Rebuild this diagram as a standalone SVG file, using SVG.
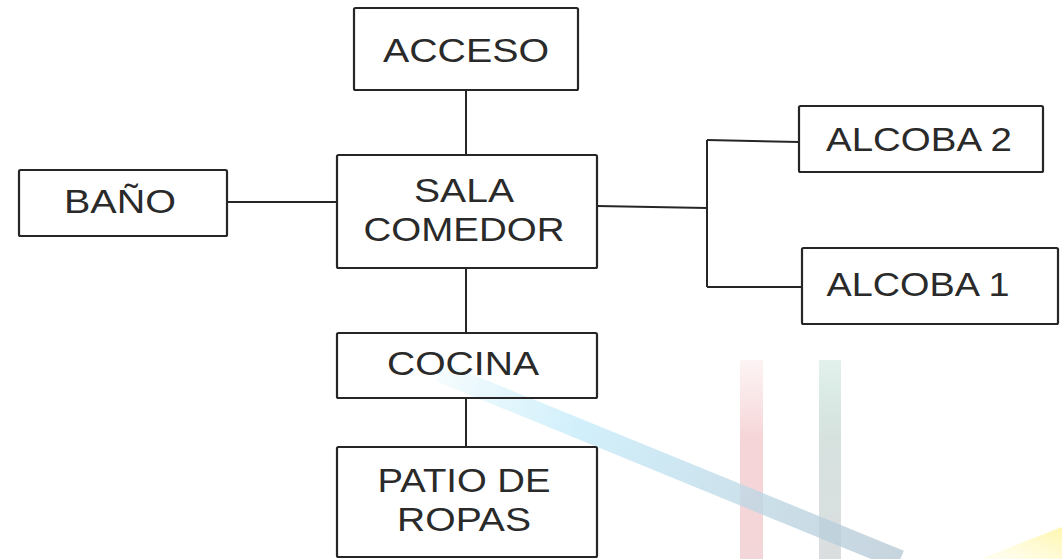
<svg xmlns="http://www.w3.org/2000/svg" width="1062" height="559" viewBox="0 0 1062 559">
<style>
.box{fill:none;stroke:#262626;stroke-width:2.2}
.lbl{font-family:"Liberation Sans",Arial,sans-serif;font-size:33px;fill:#2a2a2a;text-anchor:middle}
.conn{stroke:#262626;stroke-width:2;fill:none}
</style>
<defs>
<linearGradient id="gBlue" gradientUnits="userSpaceOnUse" x1="440" y1="372" x2="900" y2="559">
<stop offset="0" stop-color="#bfeaf8" stop-opacity="0.15"/>
<stop offset="0.3" stop-color="#c6ecfa" stop-opacity="0.8"/>
<stop offset="1" stop-color="#b4c6d3" stop-opacity="0.75"/>
</linearGradient>
<linearGradient id="gRed" x1="0" y1="0" x2="0" y2="1">
<stop offset="0" stop-color="#f6d2d4" stop-opacity="0.25"/>
<stop offset="0.4" stop-color="#f4cdd0" stop-opacity="0.85"/>
<stop offset="1" stop-color="#f1cfd2" stop-opacity="0.85"/>
</linearGradient>
<linearGradient id="gTeal" x1="0" y1="0" x2="0" y2="1">
<stop offset="0" stop-color="#b9dccf" stop-opacity="0.4"/>
<stop offset="0.4" stop-color="#d2dedb" stop-opacity="0.9"/>
<stop offset="1" stop-color="#d6dadc" stop-opacity="0.9"/>
</linearGradient>
<linearGradient id="gYel" x1="0" y1="1" x2="1" y2="0">
<stop offset="0" stop-color="#fff7b0" stop-opacity="0.2"/>
<stop offset="1" stop-color="#fff38a"/>
</linearGradient>
</defs>
<rect width="1062" height="559" fill="#fff"/>
<g id="background">
<rect x="740" y="360" width="23" height="199" fill="url(#gRed)"/>
<rect x="819" y="360" width="22" height="199" fill="url(#gTeal)"/>
<line x1="440" y1="372" x2="900" y2="560" stroke="url(#gBlue)" stroke-width="20"/>
<polygon points="980,559 1062,527 1062,559" fill="url(#gYel)" opacity="0.7"/>
</g>
<g id="connectors">
<line class="conn" x1="466" y1="90" x2="466" y2="155"/>
<line class="conn" x1="227" y1="202" x2="337" y2="202"/>
<line class="conn" x1="597" y1="206" x2="707" y2="208"/>
<line class="conn" x1="707" y1="140" x2="707" y2="287"/>
<line class="conn" x1="707" y1="140" x2="799" y2="142"/>
<line class="conn" x1="707" y1="287" x2="802" y2="287"/>
<line class="conn" x1="466" y1="268" x2="466" y2="333"/>
<line class="conn" x1="466" y1="398" x2="466" y2="447"/>
</g>
<g id="acceso">
<rect class="box" x="354" y="8" width="224" height="82" rx="1.5"/>
<text class="lbl" x="466" y="62" textLength="166" lengthAdjust="spacingAndGlyphs">ACCESO</text>
</g>
<g id="sala-comedor">
<rect class="box" x="337" y="155" width="260" height="113" rx="1.5"/>
<text class="lbl" x="464" y="202" textLength="100" lengthAdjust="spacingAndGlyphs">SALA</text>
<text class="lbl" x="464" y="241" textLength="201" lengthAdjust="spacingAndGlyphs">COMEDOR</text>
</g>
<g id="bano">
<rect class="box" x="19" y="170" width="208" height="66" rx="1.5"/>
<text class="lbl" x="120" y="213" textLength="112" lengthAdjust="spacingAndGlyphs">BAÑO</text>
</g>
<g id="alcoba2">
<rect class="box" x="799" y="106" width="244" height="66" rx="1.5"/>
<text class="lbl" x="919" y="151" textLength="186" lengthAdjust="spacingAndGlyphs">ALCOBA 2</text>
</g>
<g id="alcoba1">
<rect class="box" x="802" y="248" width="256" height="76" rx="1.5"/>
<text class="lbl" x="918" y="296" textLength="183" lengthAdjust="spacingAndGlyphs">ALCOBA 1</text>
</g>
<g id="cocina">
<rect class="box" x="337" y="333" width="260" height="65" rx="1.5"/>
<text class="lbl" x="463" y="375" textLength="152" lengthAdjust="spacingAndGlyphs">COCINA</text>
</g>
<g id="patio">
<rect class="box" x="337" y="447" width="260" height="110" rx="1.5"/>
<text class="lbl" x="464" y="492" textLength="173" lengthAdjust="spacingAndGlyphs">PATIO DE</text>
<text class="lbl" x="464" y="531" textLength="134" lengthAdjust="spacingAndGlyphs">ROPAS</text>
</g>
</svg>
